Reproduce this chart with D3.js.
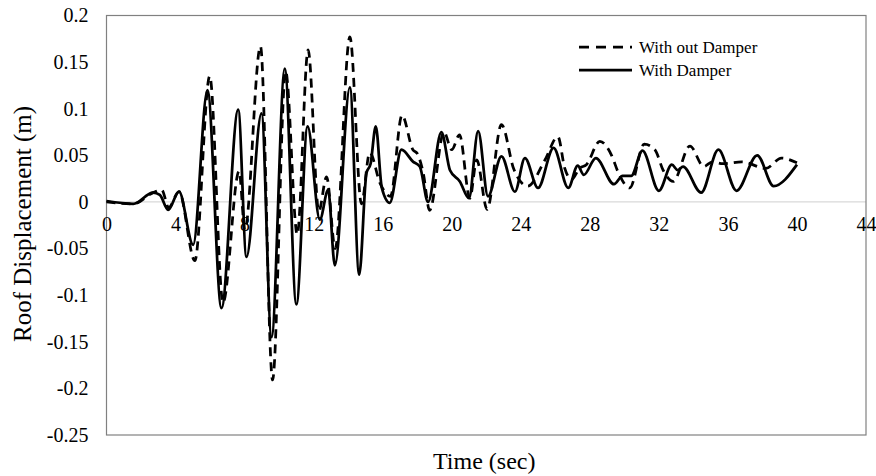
<!DOCTYPE html>
<html lang="en">
<head>
<meta charset="UTF-8">
<title>Roof Displacement</title>
<script src="https://cdnjs.cloudflare.com/ajax/libs/d3/7.8.5/d3.min.js"></script>
<style>
    body { margin: 0; background: #fff; }
    svg { display: block; font-family: "Liberation Serif", "Times New Roman", serif; }
</style>
</head>
<body>
<div id="chart"></div>
<script>
    // tick values
    var xTicks = [0, 4, 8, 12, 16, 20, 24, 28, 32, 36, 40, 44];
    var yTicks = [0.2, 0.15, 0.1, 0.05, 0, -0.05, -0.1, -0.15, -0.2, -0.25];
    var seriesNames = ['With out Damper', 'With Damper'];

    // [time (sec), displacement (m)] - turning points
    var withoutDamper = [
        [0, 0], [1.55, -0.002], [2.7, 0.010], [3.2, 0.013], [3.6, -0.006], [4.2, 0.011],
        [5.12, -0.063], [5.98, 0.135], [6.75, -0.108], [7.68, 0.033], [8.02, -0.03],
        [8.92, 0.167], [9.62, -0.191], [10.38, 0.140], [11.05, -0.035], [11.68, 0.163],
        [12.3, -0.01], [12.75, 0.027], [13.25, -0.05], [14.1, 0.177], [14.77, -0.002],
        [15.25, 0.053], [15.85, 0.02], [16.45, 0.006], [17.12, 0.093], [17.75, 0.056],
        [18.0, 0.052], [18.35, 0.031], [18.72, -0.009], [19.55, 0.075], [20.0, 0.056],
        [20.45, 0.072], [21.05, 0.004], [21.45, 0.045], [22.05, -0.008], [22.88, 0.083],
        [23.6, 0.035], [24.4, 0.017], [25.4, 0.045], [26.15, 0.070], [26.55, 0.036],
        [26.94, 0.024], [27.4, 0.036], [27.8, 0.040], [28.58, 0.065], [29.26, 0.050],
        [29.64, 0.032], [30.31, 0.015], [31.15, 0.062], [31.77, 0.056], [32.25, 0.034],
        [32.83, 0.022], [33.8, 0.060], [34.6, 0.038], [35.1, 0.043], [35.7, 0.041],
        [36.8, 0.043], [38.2, 0.036], [39.1, 0.047], [40, 0.042]
    ];

    var withDamper = [
        [0, 0.001], [1.55, -0.002], [2.7, 0.010], [3.09, 0.0075], [3.57, -0.0086], [4.2, 0.011],
        [5.02, -0.046], [5.85, 0.120], [6.66, -0.114], [7.63, 0.099], [8.11, -0.059],
        [8.98, 0.095], [9.56, -0.145], [10.33, 0.143], [11.0, -0.110], [11.65, 0.081],
        [12.36, -0.019], [12.84, 0.013], [13.23, -0.068], [14.1, 0.123], [14.64, -0.078],
        [15.06, 0.031], [15.3, 0.041], [15.6, 0.081], [15.95, 0.015], [16.41, -0.001],
        [17.09, 0.056], [17.77, 0.043], [18.15, 0.038], [18.63, 0.0], [19.4, 0.075],
        [19.9, 0.034], [20.47, 0.022], [21.0, 0.004], [21.53, 0.076], [22.1, 0.006],
        [22.88, 0.049], [23.66, 0.011], [24.24, 0.047], [25.0, 0.015], [25.9, 0.058],
        [26.75, 0.015], [27.3, 0.039], [27.65, 0.029], [28.35, 0.047], [29.4, 0.019],
        [29.9, 0.028], [30.4, 0.028], [31.05, 0.055], [32.0, 0.012], [32.75, 0.040],
        [33.1, 0.034], [33.4, 0.038], [34.45, 0.010], [35.45, 0.056], [36.5, 0.012],
        [37.7, 0.050], [38.65, 0.017], [40, 0.040]
    ];

    var width = 876, height = 476;
    var margin = { top: 15.5, right: 10, bottom: 41, left: 106.5 };

    var svg = d3.select('#chart').append('svg')
        .attr('width', width)
        .attr('height', height);

    var x = d3.scaleLinear().domain([0, 44]).range([margin.left, width - margin.right]);
    var y = d3.scaleLinear().domain([-0.25, 0.2]).range([height - margin.bottom, margin.top]);

    var fmt = function (d) { return String(+d.toFixed(2)); };

    // zero line
    svg.append('line')
        .attr('x1', x(0)).attr('x2', x(44))
        .attr('y1', y(0)).attr('y2', y(0))
        .attr('stroke', '#d9d9d9')
        .attr('stroke-width', 1.2);

    // plot border
    svg.append('rect')
        .attr('x', x(0)).attr('y', y(0.2))
        .attr('width', x(44) - x(0))
        .attr('height', y(-0.25) - y(0.2))
        .attr('fill', 'none')
        .attr('stroke', '#808080')
        .attr('stroke-width', 1.2);

    // y axis labels
    var yAxis = d3.axisLeft(y).tickValues(yTicks).tickFormat(fmt).tickSize(0).tickPadding(18);
    svg.append('g')
        .attr('transform', 'translate(' + x(0) + ',0)')
        .call(yAxis)
        .call(function (g) {
            g.select('.domain').remove();
            g.selectAll('text').attr('font-size', 20).attr('fill', '#000')
                .attr('font-family', '"Liberation Serif", serif');
        });

    // x axis labels sit on the zero line
    var xAxis = d3.axisBottom(x).tickValues(xTicks).tickFormat(fmt).tickSize(0).tickPadding(15);
    svg.append('g')
        .attr('transform', 'translate(0,' + y(0) + ')')
        .call(xAxis)
        .call(function (g) {
            g.select('.domain').remove();
            g.selectAll('text').attr('font-size', 20).attr('fill', '#000')
                .attr('font-family', '"Liberation Serif", serif');
        });

    var line = d3.line()
        .x(function (d) { return x(d[0]); })
        .y(function (d) { return y(d[1]); })
        .curve(d3.curveMonotoneX);

    svg.append('path')
        .datum(withoutDamper)
        .attr('d', line)
        .attr('fill', 'none')
        .attr('stroke', '#000')
        .attr('stroke-width', 2.75)
        .attr('stroke-dasharray', '9,6');

    svg.append('path')
        .datum(withDamper)
        .attr('d', line)
        .attr('fill', 'none')
        .attr('stroke', '#000')
        .attr('stroke-width', 2.75);

    // legend
    var legend = svg.append('g').attr('transform', 'translate(579,47)');
    seriesNames.forEach(function (name, i) {
        var row = legend.append('g').attr('transform', 'translate(0,' + (i * 23) + ')');
        row.append('line')
            .attr('x1', 0).attr('x2', 53)
            .attr('stroke', '#000')
            .attr('stroke-width', 2.75)
            .attr('stroke-dasharray', i === 0 ? '10,7' : null);
        row.append('text')
            .attr('x', 60).attr('y', 6)
            .attr('font-size', 17)
            .text(name);
    });

    // axis titles
    svg.append('text')
        .attr('x', x(22) - 2).attr('y', 469)
        .attr('text-anchor', 'middle')
        .attr('font-size', 24)
        .text('Time (sec)');

    svg.append('text')
        .attr('transform', 'translate(31,224) rotate(-90)')
        .attr('text-anchor', 'middle')
        .attr('font-size', 25)
        .text('Roof Displacement (m)');
</script>
</body>
</html>
